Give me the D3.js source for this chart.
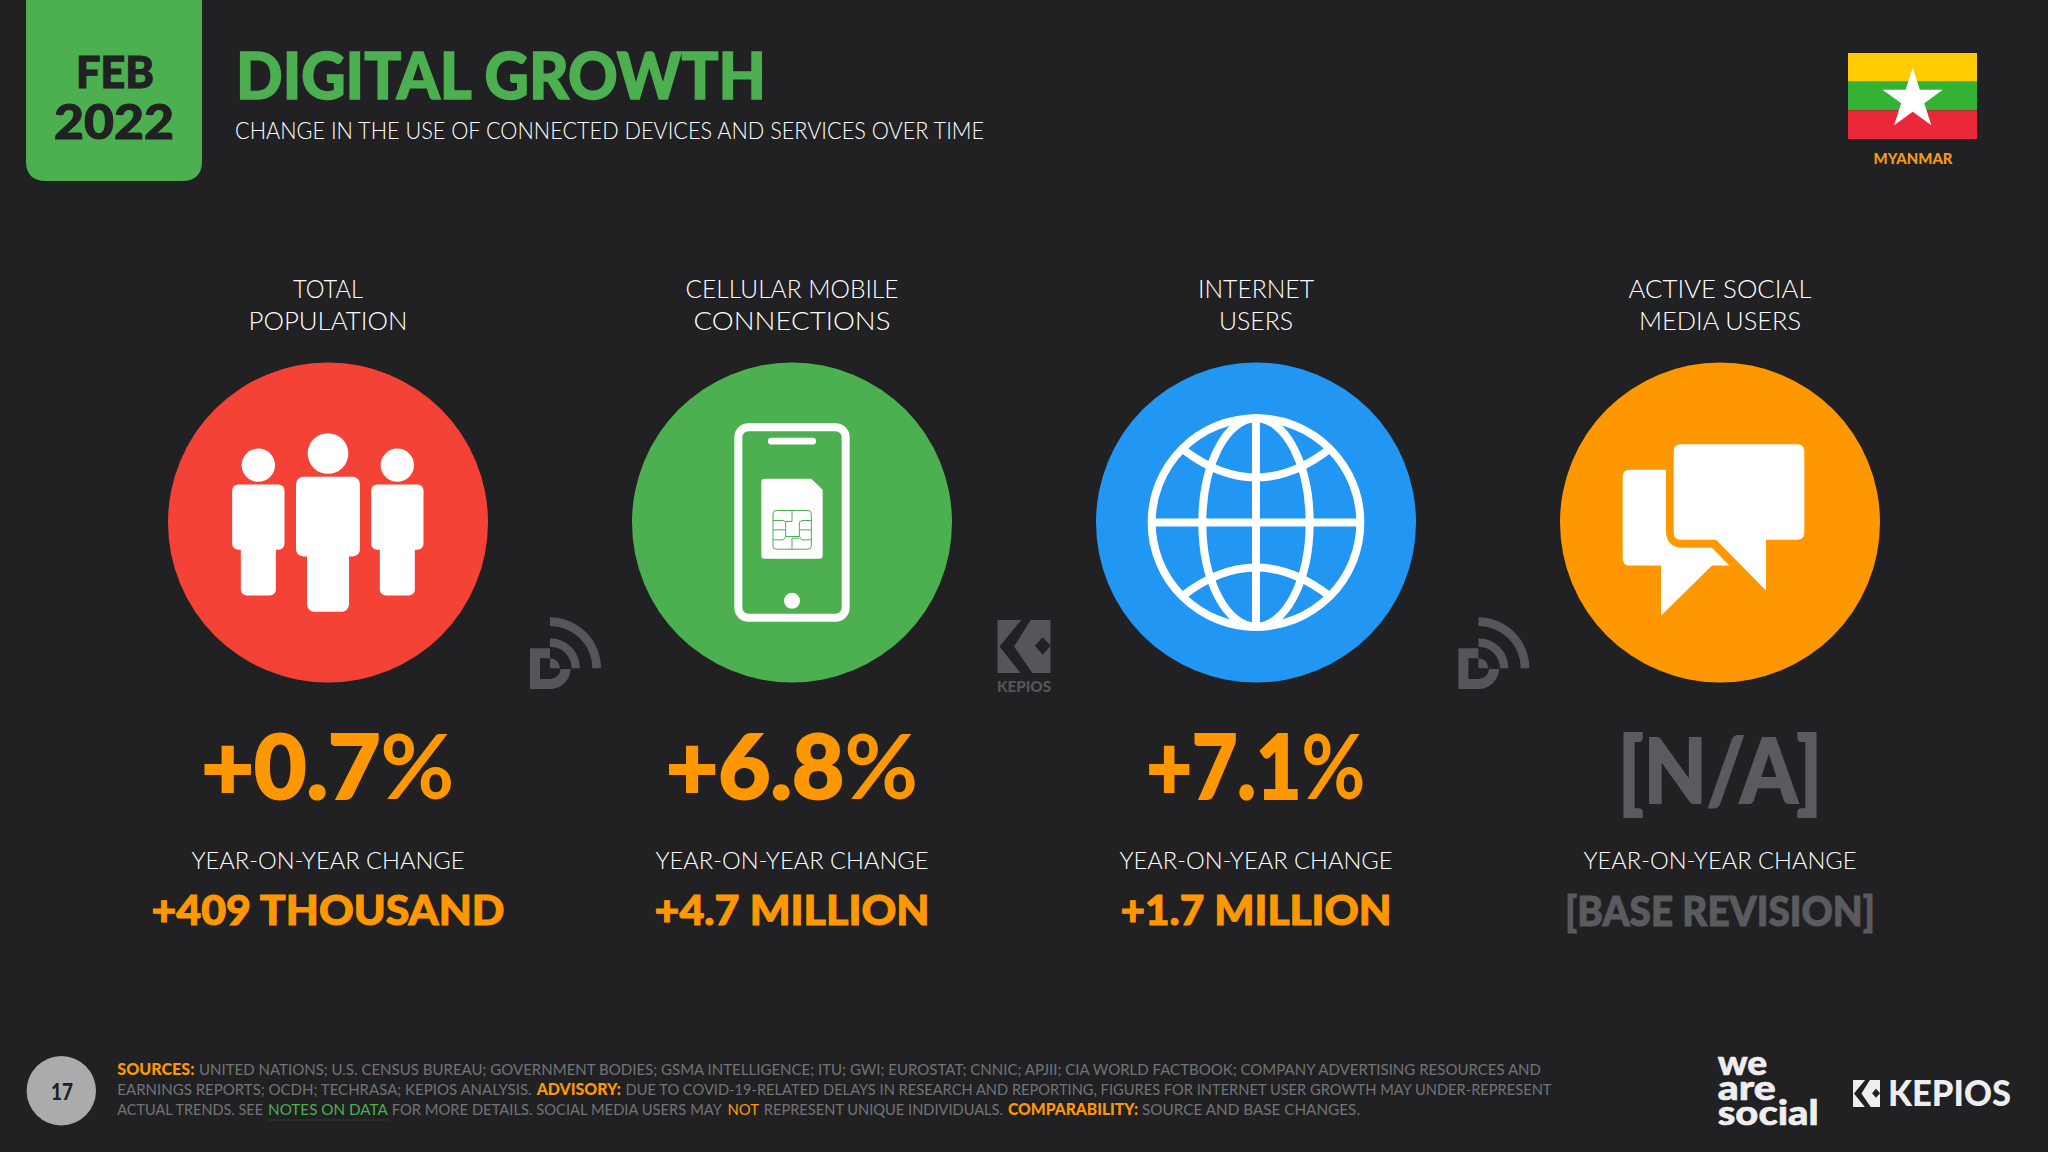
<!DOCTYPE html>
<html>
<head>
<meta charset="utf-8">
<script src="https://cdn.jsdelivr.net/npm/d3@7"></script>
<style>
  html, body { margin: 0; padding: 0; background: #212123; overflow: hidden; }
  text { font-family: Lato, "Noto Sans", sans-serif; }
</style>
</head>
<body>
<svg id="chart" width="2048" height="1152"></svg>
<script>
// values
const metricKeys = ["population", "mobile", "internet", "social"];
const metricLabels = [["TOTAL", "POPULATION"], ["CELLULAR MOBILE", "CONNECTIONS"], ["INTERNET", "USERS"], ["ACTIVE SOCIAL", "MEDIA USERS"]];
const pctChange = ["+0.7%", "+6.8%", "+7.1%", "[N/A]"];
const absChange = ["+409 THOUSAND", "+4.7 MILLION", "+1.7 MILLION", "[BASE REVISION]"];
const changeLabel = "YEAR-ON-YEAR CHANGE";
const circleColors = ["#F44336", "#4CAF50", "#2196F3", "#FF9800"];

// measured text widths, so the substitute font fills the same space
const labelWidths = [[70, 159], [213, 197], [116, 74], [183, 162]];
const pctWidths = [253, 252, 219, 204];
const absWidths = [353, 275, 271, 310];

const footerLines = [
  [["SOURCES:", 117.3, 194.4, "o"], ["UNITED NATIONS; U.S. CENSUS BUREAU; GOVERNMENT BODIES; GSMA INTELLIGENCE; ITU; GWI; EUROSTAT; CNNIC; APJII; CIA WORLD FACTBOOK; COMPANY ADVERTISING RESOURCES AND", 199, 1541, "g"]],
  [["EARNINGS REPORTS; OCDH; TECHRASA; KEPIOS ANALYSIS.", 117.3, 531.6, "g"], ["ADVISORY:", 536.7, 621, "o"], ["DUE TO COVID-19-RELATED DELAYS IN RESEARCH AND REPORTING, FIGURES FOR INTERNET USER GROWTH MAY UNDER-REPRESENT", 625.5, 1551.5, "g"]],
  [["ACTUAL TRENDS. SEE", 117.3, 263, "g"], ["NOTES ON DATA", 268, 387.8, "n"], ["FOR MORE DETAILS. SOCIAL MEDIA USERS MAY", 391.8, 722, "g"], ["NOT", 727.5, 759, "m"], ["REPRESENT UNIQUE INDIVIDUALS.", 763.8, 1003, "g"], ["COMPARABILITY:", 1008, 1138, "o"], ["SOURCE AND BASE CHANGES.", 1142, 1360, "g"]]
];
const logoLines = [["we", 1075, 49.5], ["are", 1100, 58], ["social", 1125, 101]];

const ORANGE = "#FF9800", GREEN = "#4CAF50", BG = "#212123", MUTED = "#5B5B5F", WM = "#55555A", FOOT = "#737377", LOGO = "#EEEEF0";

const svg = d3.select("#chart");
svg.append("rect").attr("width", 2048).attr("height", 1152).attr("fill", BG);

const x = d3.scalePoint().domain(metricKeys).range([328, 1720]);
const CY = 522.5, R = 160;

// text helper: squeezes or stretches a label to the width in the reference
function label(g, str, px, py, size, weight, fill, width, anchor, thick) {
  const t = g.append("text")
    .attr("x", px).attr("y", py)
    .attr("font-size", size).attr("font-weight", weight)
    .attr("fill", fill).attr("text-anchor", anchor || "middle")
    .text(str);
  if (width) t.attr("textLength", width).attr("lengthAdjust", "spacingAndGlyphs");
  if (thick) t.attr("stroke", fill).attr("stroke-width", thick);
  return t;
}

// icons are drawn around the circle centre at 3x
function person(g, dx, headR, headY, bw, bt, bb, lw, lb, rx) {
  g.append("circle").attr("cx", dx).attr("cy", headY).attr("r", headR).attr("fill", "#fff");
  g.append("rect").attr("x", dx - bw / 2).attr("y", bt).attr("width", bw).attr("height", bb - bt).attr("rx", rx).attr("fill", "#fff");
  g.append("rect").attr("x", dx - lw / 2).attr("y", bb - 20).attr("width", lw).attr("height", lb - bb + 20).attr("rx", rx).attr("fill", "#fff");
}

const icons = {
  population: function(g) {
    person(g, -209, 50, -172, 157, -114, 82, 105, 219, 18);
    person(g, 208, 50, -172, 157, -114, 82, 105, 219, 18);
    person(g, 0, 61, -207, 192, -137, 102, 126, 268, 22);
  },
  mobile: function(g, col) {
    g.append("rect").attr("x", -161).attr("y", -286).attr("width", 322).attr("height", 572).attr("rx", 30)
      .attr("fill", "none").attr("stroke", "#fff").attr("stroke-width", 24);
    g.append("rect").attr("x", -72).attr("y", -254).attr("width", 144).attr("height", 20).attr("rx", 10).attr("fill", "#fff");
    g.append("circle").attr("cy", 235).attr("r", 24).attr("fill", "#fff");
    g.append("path").attr("fill", "#fff").attr("d", "M-82,-131 H58 L92,-98 V99 Q92,109 82,109 H-82 Q-92,109 -92,99 V-121 Q-92,-131 -82,-131 Z");
    const chip = g.append("g").attr("fill", "none").attr("stroke", col).attr("stroke-width", 3);
    chip.append("rect").attr("x", -57).attr("y", -36).attr("width", 115).attr("height", 116).attr("rx", 10);
    chip.append("path").attr("d",
      "M0,-36 V-3 M0,47 V80 M-57,-6 H-26 L-19,-1 V42 L-26,52 H-57 M-57,22 H-19 " +
      "M58,-6 H30 L22,-1 V42 L30,52 H58 M58,22 H22 M-19,42 H22 M-19,-3 H0 M0,47 H22");
  },
  internet: function(g) {
    const s = g.append("g").attr("fill", "none").attr("stroke", "#fff").attr("stroke-width", 24);
    s.append("circle").attr("r", 313);
    s.append("ellipse").attr("rx", 161).attr("ry", 313);
    s.append("path").attr("d", "M0,-313 V313 M-313,0 H313");
    s.append("path").attr("d", "M-220,-220 Q0,-50 220,-220");
    s.append("path").attr("d", "M-220,220 Q0,50 220,220");
  },
  social: function(g) {
    g.append("path").attr("fill", "#fff")
      .attr("d", "M-117,-235 H231 Q253,-235 253,-213 V30 Q253,52 231,52 H138 V204 L-12,52 H-117 Q-139,52 -139,30 V-213 Q-139,-235 -117,-235 Z");
    g.append("path").attr("fill", "#fff")
      .attr("d", "M-162,-158 H-270 Q-292,-158 -292,-136 V107 Q-292,129 -270,129 H-177 V280 L-24,129 H28 L-24,76 H-110 Q-162,76 -162,24 Z");
  }
};

function kepiosMark(g, px, py, size, fg) {
  const m = g.append("g").attr("transform", "translate(" + px + "," + py + ") scale(" + size / 160 + ")");
  m.append("rect").attr("width", 160).attr("height", 160).attr("fill", fg);
  m.append("path").attr("fill", BG).attr("d", "M72,0 H100 L50,80 L105,160 H70 L6,80 Z M113,78 L136,52 L161,78 L136,105 Z");
}

function dataMark(g, px, py) {
  const m = g.append("g").attr("transform", "translate(" + px + "," + py + ") scale(" + (1 / 3) + ")").attr("fill", WM);
  const arc = d3.arc().startAngle(0).endAngle(Math.PI / 2);
  [[127, 153], [65, 90], [0, 30]].forEach(function(r) {
    m.append("path").attr("d", arc({ innerRadius: r[0], outerRadius: r[1] }));
  });
  m.append("path").attr("d", "M-60,-60 H0 V-30 H-30 V32 H0 A32,32 0 0 0 32,2 H62 A62,62 0 0 1 0,62 H-60 Z");
}

// header
svg.append("path").attr("fill", GREEN)
  .attr("d", "M26,0 H202 V161 Q202,181 182,181 H46 Q26,181 26,161 Z");
label(svg, "FEB", 115, 88, 44, 900, BG, 78, null, 1);
label(svg, "2022", 114, 139, 48, 900, BG, 120, null, 1);
label(svg, "DIGITAL GROWTH", 236, 99, 64, 900, GREEN, 530, "start", 1.5);
label(svg, "CHANGE IN THE USE OF CONNECTED DEVICES AND SERVICES OVER TIME", 235, 139, 23.5, 300, "#fff", 749, "start");

// flag
const flag = svg.append("g");
[["#FECB00", 53, 28.7], ["#34B233", 81.7, 28.7], ["#EA2839", 110.4, 28.6]].forEach(function(s) {
  flag.append("rect").attr("x", 1848).attr("y", s[1]).attr("width", 129).attr("height", s[2]).attr("fill", s[0]);
});
flag.append("path").attr("fill", "#fff")
  .attr("transform", "translate(1912.7,99.6)")
  .attr("d", d3.symbol(d3.symbolStar).size(1130)());
label(svg, "MYANMAR", 1913, 164, 15.5, 900, "#F39C12", 79);

// columns
const cols = svg.selectAll("g.col").data(metricKeys).enter().append("g")
  .attr("class", "col");

cols.each(function(key, i) {
  const g = d3.select(this), cx = x(key);
  const muted = pctChange[i].charAt(0) === "[";
  label(g, metricLabels[i][0], cx, 298, 26, 300, "#fff", labelWidths[i][0]);
  label(g, metricLabels[i][1], cx, 330, 26, 300, "#fff", labelWidths[i][1]);
  g.append("circle").attr("cx", cx).attr("cy", CY).attr("r", R).attr("fill", circleColors[i]);
  const ic = g.append("g").attr("transform", "translate(" + cx + "," + CY + ") scale(" + (1 / 3) + ")");
  icons[key](ic, circleColors[i]);

  // the percent sign is lighter than the digits in the reference
  const big = label(g, "", cx, muted ? 803 : 799, 90, 900, muted ? MUTED : ORANGE, pctWidths[i], null, 2);
  if (muted) {
    big.text(pctChange[i]);
  } else {
    big.append("tspan").text(pctChange[i].slice(0, -1));
    big.append("tspan").attr("font-weight", 700).attr("stroke-width", 0).text("%");
  }

  label(g, changeLabel, cx, 869, 24, 300, "#fff", 273);
  label(g, absChange[i], cx, muted ? 926 : 925, 41, 900, muted ? MUTED : ORANGE, absWidths[i], null, 1);
});

// watermarks between the columns
dataMark(svg, 550, 668.3);
dataMark(svg, 1478.4, 668.3);
kepiosMark(svg, 997.5, 620, 53, WM);
label(svg, "KEPIOS", 1024, 692, 15, 900, WM, 54);

// footer
svg.append("circle").attr("cx", 61.3).attr("cy", 1090.7).attr("r", 34.7).attr("fill", "#ABABAD");
label(svg, "17", 62, 1100, 22, 900, BG, 22);

const footColor = { g: FOOT, o: ORANGE, n: GREEN, m: ORANGE };
const footBase = [1074.5, 1095, 1115.3];
footerLines.forEach(function(line, i) {
  const t = svg.append("text").attr("y", footBase[i]).attr("font-size", 16);
  line.forEach(function(seg) {
    t.append("tspan")
      .attr("x", seg[1])
      .attr("textLength", seg[2] - seg[1]).attr("lengthAdjust", "spacingAndGlyphs")
      .attr("font-weight", seg[3] === "o" ? 900 : 400)
      .attr("fill", footColor[seg[3]])
      .text(seg[0]);
  });
});
svg.append("line").attr("x1", 268).attr("x2", 389).attr("y1", 1120).attr("y2", 1120)
  .attr("stroke", GREEN).attr("stroke-opacity", 0.5).attr("stroke-dasharray", "1 1.5");

// logos
const logoText = svg.append("text").attr("font-size", 35).attr("font-weight", 900).attr("fill", LOGO)
  .attr("stroke", LOGO).attr("stroke-width", 0.6);
logoLines.forEach(function(l) {
  logoText.append("tspan").attr("x", 1717.7).attr("y", l[1])
    .attr("textLength", l[2]).attr("lengthAdjust", "spacingAndGlyphs").text(l[0]);
});
kepiosMark(svg, 1853, 1080, 27, LOGO);
label(svg, "KEPIOS", 1888, 1106, 36, 900, LOGO, 123, "start");
</script>
</body>
</html>
